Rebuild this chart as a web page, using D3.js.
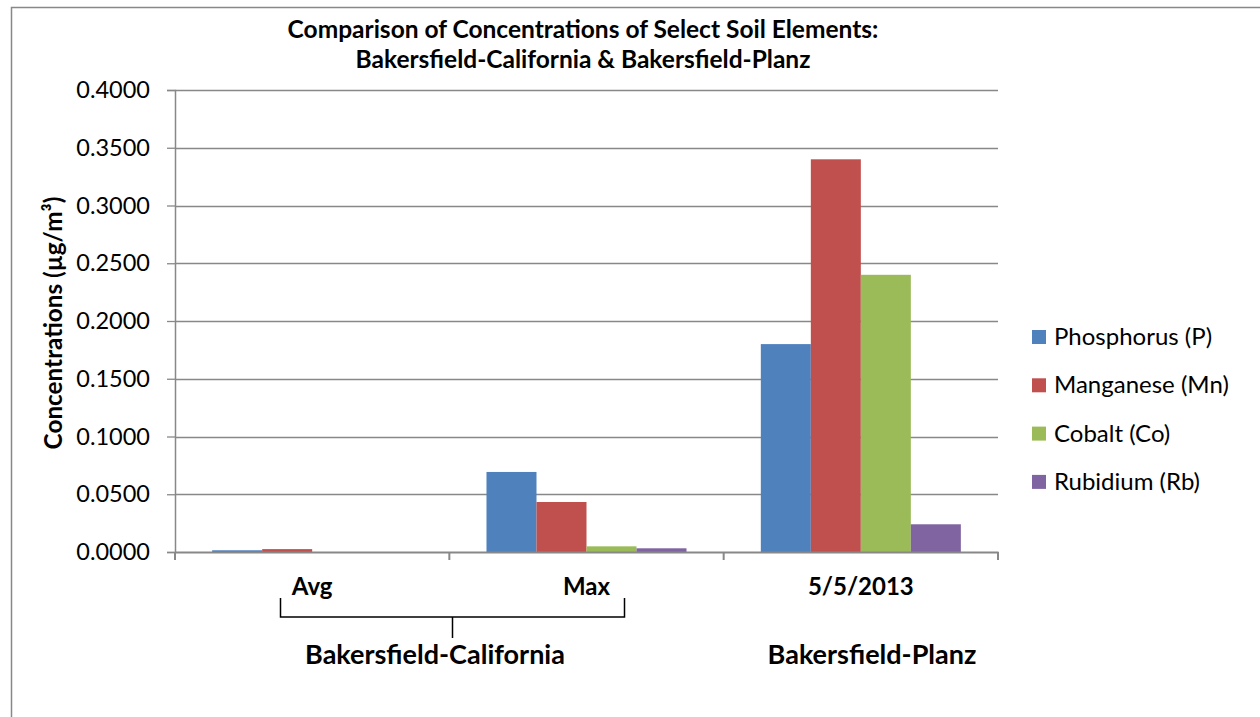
<!DOCTYPE html>
<html lang="en">
<head>
  <meta charset="UTF-8">
  <title>Soil Elements</title>
  <script src="https://d3js.org/d3.v7.min.js"></script>
  <style>
    body { margin: 0; background: #fff; }
    svg { display: block; font-family: Lato, "Open Sans", sans-serif; }
  </style>
</head>
<body>
  <div id="chart"></div>
  <script>
    const categories = ["Avg", "Max", "5/5/2013"];
    const seriesNames = ["Phosphorus (P)", "Manganese (Mn)", "Cobalt (Co)", "Rubidium (Rb)"];
    const phosphorus = [0.0015, 0.0693, 0.1800];
    const manganese  = [0.0025, 0.0433, 0.3400];
    const cobalt     = [0.0000, 0.0049, 0.2400];
    const rubidium   = [0.0000, 0.0032, 0.0240];
    const yTicks = [0, 0.05, 0.1, 0.15, 0.2, 0.25, 0.3, 0.35, 0.4];
    const colors = ["#4F81BD", "#C0504D", "#9BBB59", "#8064A2"];

    const allSeries = [phosphorus, manganese, cobalt, rubidium];
    const width = 1260, height = 717;
    const plot = { left: 175, right: 998, top: 90, bottom: 552 };

    const svg = d3.select("#chart").append("svg")
      .attr("width", width)
      .attr("height", height);

    // chart area border
    svg.append("rect")
      .attr("x", 11.5).attr("y", 7.5)
      .attr("width", 1260).attr("height", 720)
      .attr("fill", "none").attr("stroke", "#888").attr("stroke-width", 1.5);

    const x0 = d3.scaleBand().domain(categories).range([plot.left, plot.right]).padding(0);
    const x1 = d3.scaleBand().domain(d3.range(4)).range([0, x0.bandwidth()])
      .paddingInner(0).paddingOuter(0.743);
    const y = d3.scaleLinear().domain([0, 0.4]).range([plot.bottom, plot.top]);

    // gridlines
    svg.append("g")
      .selectAll("line")
      .data(yTicks.slice(1))
      .join("line")
        .attr("x1", plot.left).attr("x2", plot.right)
        .attr("y1", d => Math.round(y(d)) + 0.5).attr("y2", d => Math.round(y(d)) + 0.5)
        .attr("stroke", "#888").attr("stroke-width", 1.3);

    // bars
    const groups = svg.append("g")
      .selectAll("g")
      .data(categories)
      .join("g")
        .attr("transform", d => `translate(${x0(d)},0)`);

    groups.selectAll("rect")
      .data((c, ci) => allSeries.map((s, si) => ({ si, v: s[ci] })))
      .join("rect")
        .attr("x", d => x1(d.si))
        .attr("width", x1.bandwidth())
        .attr("y", d => y(d.v))
        .attr("height", d => y(0) - y(d.v))
        .attr("fill", d => colors[d.si]);

    // y axis
    const yAxis = svg.append("g")
      .attr("transform", `translate(${plot.left},0)`)
      .call(d3.axisLeft(y).tickValues(yTicks).tickFormat(d3.format(".4f")).tickSize(8).tickPadding(17));
    yAxis.select(".domain").attr("stroke", "#888").attr("stroke-width", 1.5);
    yAxis.selectAll("line").attr("stroke", "#888").attr("stroke-width", 1.3);
    yAxis.selectAll("text").attr("font-size", 23.5).attr("fill", "#000").attr("font-family", "Lato, sans-serif");

    // x axis
    const xAxis = svg.append("g")
      .attr("transform", `translate(0,${plot.bottom})`)
      .call(d3.axisBottom(x0).tickSize(0).tickFormat(""));
    xAxis.select(".domain").attr("stroke", "#888").attr("stroke-width", 2);
    xAxis.selectAll(".sep")
      .data([plot.left].concat(categories.map(c => x0(c) + x0.bandwidth())))
      .join("line")
        .attr("class", "sep")
        .attr("x1", d => d).attr("x2", d => d)
        .attr("y1", 0).attr("y2", 8)
        .attr("stroke", "#888").attr("stroke-width", 2);

    svg.append("g")
      .selectAll("text")
      .data(categories)
      .join("text")
        .attr("x", d => x0(d) + x0.bandwidth() / 2)
        .attr("y", 595)
        .attr("text-anchor", "middle")
        .attr("font-size", 24).attr("font-weight", "bold")
        .text(d => d);

    // group bracket
    const bx1 = 280.5, bx2 = 624.5, bmid = 452.5;
    svg.append("path")
      .attr("d", `M${bx1},598 V617 H${bx2} V598 M${bmid},617 V638`)
      .attr("fill", "none").attr("stroke", "#000").attr("stroke-width", 1.5);

    svg.append("text")
      .attr("x", 435).attr("y", 664)
      .attr("text-anchor", "middle")
      .attr("font-size", 27).attr("font-weight", "bold")
      .text("Bakersfield-California");
    svg.append("text")
      .attr("x", 872).attr("y", 664)
      .attr("text-anchor", "middle")
      .attr("font-size", 27).attr("font-weight", "bold")
      .text("Bakersfield-Planz");

    // title
    const title = svg.append("text")
      .attr("text-anchor", "middle")
      .attr("font-size", 24.5).attr("font-weight", "bold");
    title.append("tspan").attr("x", 583).attr("y", 38)
      .text("Comparison of Concentrations of Select Soil Elements:");
    title.append("tspan").attr("x", 583).attr("y", 68)
      .text("Bakersfield-California & Bakersfield-Planz");

    // y axis title
    svg.append("text")
      .attr("transform", "translate(62,323) rotate(-90)")
      .attr("text-anchor", "middle")
      .attr("font-size", 24.3).attr("font-weight", "bold")
      .text("Concentrations (µg/m³)");

    // legend
    const legend = svg.append("g")
      .selectAll("g")
      .data(seriesNames)
      .join("g")
        .attr("transform", (d, i) => `translate(1032,${337 + i * 48.3})`);
    legend.append("rect")
      .attr("x", 0).attr("y", -7).attr("width", 14).attr("height", 14)
      .attr("fill", (d, i) => colors[i]);
    legend.append("text")
      .attr("x", 22).attr("y", 8)
      .attr("font-size", 24)
      .text(d => d);
  </script>
</body>
</html>
